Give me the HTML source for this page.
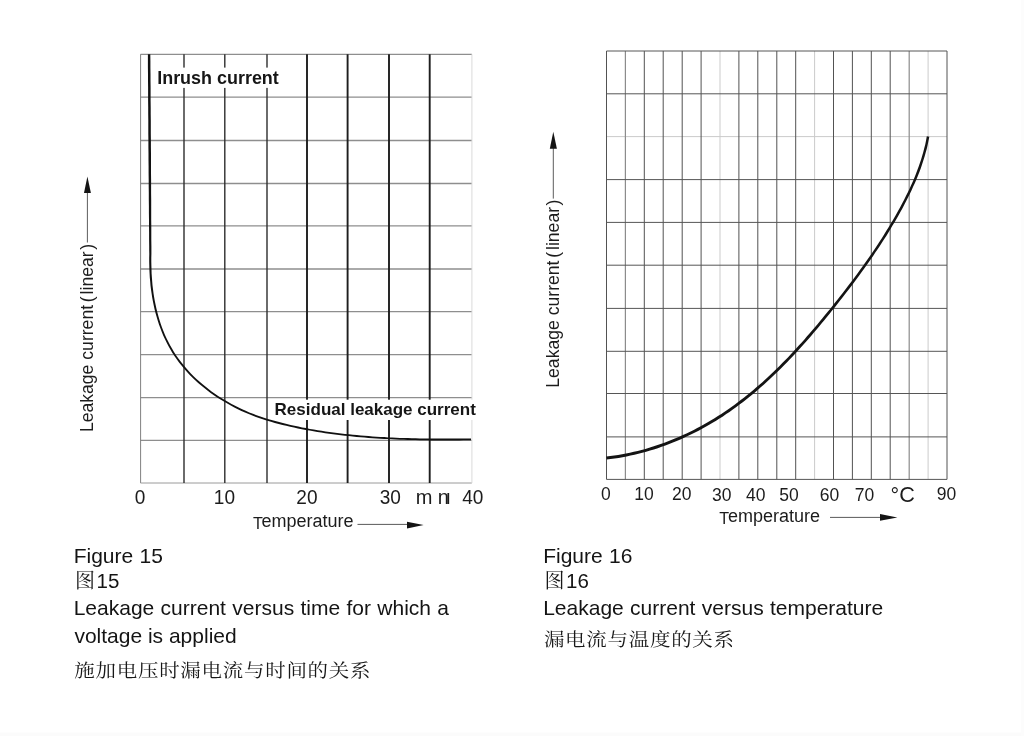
<!DOCTYPE html>
<html lang="en">
<head>
<meta charset="utf-8">
<title>Figure 15 / Figure 16 – Leakage current</title>
<style>
html,body{margin:0;padding:0;background:#fff;}
body{width:1024px;height:736px;overflow:hidden;position:relative;}
svg{position:absolute;left:0;top:0;display:block;filter:grayscale(1);}
text{font-family:"Liberation Sans","Noto Sans CJK SC",sans-serif;fill:#1c1c1c;}
.cjk{font-family:"Liberation Serif","Noto Serif CJK SC",serif;fill:#181818;}
.b{font-weight:bold;fill:#161616;}
.ax{font-size:17.5px;}
.ax1{font-size:21px;}
.cap{font-size:21px;word-spacing:0.5px;fill:#141414;}
.mid{text-anchor:middle;}
</style>
</head>
<body>
<svg width="1024" height="736" viewBox="0 0 1024 736">
<rect x="0" y="0" width="1024" height="736" fill="#ffffff"/>
<rect x="0" y="732.5" width="1024" height="3.5" fill="#fbfbfb"/>
<rect x="1021" y="0" width="3" height="736" fill="#fcfcfc"/>

<!-- ============ FIGURE 15 (left chart) ============ -->
<g id="fig15">
  <path d="M140.5 54.4H471.8M140.5 97.2H471.8M140.5 140.5H471.8M140.5 183.5H471.8M140.5 225.8H471.8M140.5 269H471.8M140.5 311.7H471.8M140.5 354.6H471.8M140.5 397.6H471.8M140.5 440.4H471.8" stroke="#8e8e8e" stroke-width="1.3" fill="none"/>
  <path d="M140.6 54.3V483" stroke="#808080" stroke-width="1" fill="none"/>
  <path d="M140.5 483H471.8" stroke="#9a9a9a" stroke-width="1" fill="none"/>
  <path d="M471.9 54.3V483" stroke="#d2d2d2" stroke-width="0.8" fill="none"/>
  <path d="M184 54.3V483M224.8 54.3V483M267 54.3V483" stroke="#2e2e2e" stroke-width="1.4" fill="none"/>
  <path d="M307 54.3V483M347.6 54.3V483M389 54.3V483M429.7 54.3V483" stroke="#1e1e1e" stroke-width="1.9" fill="none"/>
  <rect x="152" y="67.6" width="130" height="20.3" fill="#fff"/>
  <rect x="272" y="399.7" width="206" height="20.3" fill="#fff"/>
  <path d="M147.9 54.3L147.9 60.9L147.9 67.5L148.0 74.1L148.0 80.7L148.1 87.4L148.1 94.0L148.1 100.6L148.2 107.2L148.2 113.8L148.3 120.4L148.3 127.0L148.3 133.6L148.4 140.2L148.4 146.9L148.5 153.5L148.5 160.1L148.6 166.7L148.6 173.3L148.7 179.9L148.7 186.5L148.8 193.1L148.8 199.7L148.9 206.3L148.9 213.0L149.0 219.6L149.0 226.2L149.1 232.8L149.1 239.4L149.2 246.0L149.2 250.0L149.3 254.0L149.2 257.9L149.2 261.8L149.3 265.7L149.4 269.7L149.6 273.7L149.8 277.6L150.2 281.6L150.5 285.5L151.0 289.5L151.6 293.4L152.2 297.4L152.9 301.3L153.7 305.2L154.5 309.1L155.5 312.9L156.6 316.8L157.7 320.6L158.9 324.3L160.3 328.1L161.7 331.7L163.2 335.4L164.9 339.0L166.6 342.6L168.4 346.1L170.4 349.5L172.4 352.9L174.6 356.2L176.9 359.5L179.2 362.7L181.7 365.8L184.2 368.8L186.8 371.8L189.5 374.7L192.3 377.5L195.2 380.3L198.1 382.9L201.2 385.5L204.3 388.0L207.4 390.5L210.6 392.9L213.8 395.2L217.1 397.4L220.5 399.5L223.9 401.6L227.3 403.6L230.8 405.6L234.3 407.4L237.8 409.2L241.4 410.9L245.0 412.5L248.7 414.0L252.3 415.5L256.0 416.9L259.7 418.2L263.5 419.5L267.3 420.7L271.0 421.8L274.8 422.9L278.7 423.9L282.5 424.9L286.3 425.8L290.2 426.7L294.0 427.6L297.9 428.4L301.8 429.2L305.7 429.9L309.6 430.6L313.5 431.3L317.4 432.0L321.3 432.6L325.2 433.2L329.1 433.7L333.0 434.3L337.0 434.8L340.9 435.2L344.8 435.7L348.8 436.1L352.7 436.5L356.6 436.9L360.6 437.3L364.5 437.6L368.4 437.9L372.4 438.2L376.3 438.5L380.2 438.7L384.2 438.9L388.1 439.1L392.1 439.3L396.0 439.5L400.0 439.7L403.9 439.8L407.8 439.9L411.8 440.0L415.7 440.1L419.7 440.2L423.6 440.3L427.6 440.3L431.5 440.4L435.5 440.4L439.4 440.4L443.4 440.4L447.3 440.4L451.3 440.4L455.2 440.4L459.2 440.4L463.1 440.3L467.1 440.3L471.0 440.2L471.0 438.4L467.0 438.5L463.1 438.5L459.2 438.6L455.2 438.6L451.3 438.6L447.3 438.6L443.4 438.6L439.4 438.6L435.5 438.6L431.5 438.6L427.6 438.5L423.7 438.5L419.7 438.4L415.8 438.3L411.8 438.2L407.9 438.1L404.0 438.0L400.0 437.9L396.1 437.7L392.2 437.5L388.2 437.4L384.3 437.1L380.4 436.9L376.4 436.7L372.5 436.4L368.6 436.1L364.6 435.8L360.7 435.5L356.8 435.1L352.9 434.7L348.9 434.3L345.0 433.9L341.1 433.5L337.2 433.0L333.3 432.5L329.4 432.0L325.5 431.4L321.6 430.8L317.7 430.2L313.8 429.5L309.9 428.9L306.0 428.1L302.1 427.4L298.3 426.6L294.4 425.8L290.6 424.9L286.8 424.1L282.9 423.1L279.1 422.1L275.3 421.1L271.5 420.1L267.8 418.9L264.0 417.8L260.3 416.5L256.6 415.2L253.0 413.8L249.3 412.4L245.7 410.8L242.2 409.2L238.6 407.6L235.1 405.8L231.6 404.0L228.2 402.1L224.8 400.1L221.4 398.0L218.1 395.9L214.9 393.7L211.6 391.4L208.5 389.1L205.4 386.6L202.3 384.1L199.4 381.5L196.5 378.9L193.6 376.2L190.9 373.4L188.2 370.5L185.6 367.6L183.1 364.6L180.7 361.5L178.4 358.4L176.1 355.2L174.0 351.9L172.0 348.6L170.1 345.2L168.3 341.7L166.5 338.2L164.9 334.7L163.4 331.1L162.0 327.4L160.7 323.7L159.5 320.0L158.4 316.2L157.4 312.5L156.4 308.6L155.6 304.8L154.8 300.9L154.1 297.1L153.5 293.2L153.0 289.3L152.5 285.3L152.2 281.4L151.9 277.5L151.6 273.5L151.5 269.6L151.4 265.7L151.3 261.8L151.3 257.9L151.4 254.0L151.4 250.0L151.4 246.0L151.3 239.4L151.3 232.8L151.3 226.2L151.2 219.6L151.2 212.9L151.2 206.3L151.2 199.7L151.1 193.1L151.1 186.5L151.1 179.9L151.0 173.3L151.0 166.7L151.0 160.1L151.0 153.4L150.9 146.8L150.9 140.2L150.8 133.6L150.8 127.0L150.8 120.4L150.7 113.8L150.7 107.2L150.6 100.6L150.6 94.0L150.6 87.3L150.5 80.7L150.5 74.1L150.4 67.5L150.4 60.9L150.3 54.3Z" fill="#111" stroke="none"/>
  <text class="b" x="157.2" y="83.8" font-size="17.95">Inrush current</text>
  <text class="b" x="274.6" y="415.1" font-size="17">Residual leakage current</text>
  <!-- x axis numbers -->
  <g class="ax1">
    <text class="mid" x="140" y="504.3" textLength="10.6" lengthAdjust="spacingAndGlyphs">0</text>
    <text class="mid" x="224.4" y="504.3" textLength="21.2" lengthAdjust="spacingAndGlyphs">10</text>
    <text class="mid" x="306.9" y="504.3" textLength="21.2" lengthAdjust="spacingAndGlyphs">20</text>
    <text class="mid" x="390.3" y="504.3" textLength="21.2" lengthAdjust="spacingAndGlyphs">30</text>
    <text x="415.8" y="504.3" font-size="20">m<tspan dx="5.2">n</tspan><tspan dx="-3.4">ı</tspan></text>
    <text class="mid" x="472.8" y="504.3" textLength="21.2" lengthAdjust="spacingAndGlyphs">40</text>
  </g>
  <text x="252.9" y="526.8" font-size="18"><tspan font-size="16.2" dy="1.7">T</tspan><tspan dy="-1.7" dx="-1.2">emperature</tspan></text>
  <path d="M357.5 524.4H408" stroke="#5a5a5a" stroke-width="1" fill="none"/>
  <path d="M423.6 524.9L407 521.8L407 528.5Z" fill="#141414"/>
  <!-- y axis label -->
  <text style="font-size:17.6px" transform="translate(92.8 432.1) rotate(-90)">Leakage current <tspan dx="-2.1">(</tspan><tspan dx="1.9">linear</tspan><tspan dx="1.5">)</tspan></text>
  <path d="M87.4 242.5V192" stroke="#4a4a4a" stroke-width="0.9" fill="none"/>
  <path d="M87.4 176.4L84 192.9L90.9 192.9Z" fill="#141414"/>
</g>

<!-- ============ FIGURE 16 (right chart) ============ -->
<g id="fig16">
  <path d="M720.0 51V479.4M814.6 51V479.4M928.1 51V479.4M606.5 136.6H947" stroke="#cbcbc7" stroke-width="1" fill="none"/>
  <path d="M625.4 51V479.4M909.2 51V479.4" stroke="#8c8c8c" stroke-width="1.2" fill="none"/>
  <path d="M606.5 51V479.4M644.3 51V479.4M663.2 51V479.4M682.2 51V479.4M701.1 51V479.4M738.9 51V479.4M757.8 51V479.4M776.8 51V479.4M795.7 51V479.4M833.5 51V479.4M852.4 51V479.4M871.3 51V479.4M890.2 51V479.4M947.0 51V479.4" stroke="#525252" stroke-width="1" fill="none"/>
  <path d="M606.5 51H947M606.5 93.8H947M606.5 179.6H947M606.5 222.4H947M606.5 265.2H947M606.5 308.4H947M606.5 351.3H947M606.5 393.5H947M606.5 436.9H947M606.5 479.4H947" stroke="#565656" stroke-width="1" fill="none"/>
  <path d="M606.6 459.5L610.6 459.0L614.6 458.5L618.6 457.9L622.6 457.2L626.6 456.4L630.5 455.6L634.5 454.8L638.4 453.8L642.3 452.8L646.2 451.7L650.1 450.6L653.9 449.4L657.8 448.2L661.6 446.8L665.4 445.5L669.2 444.0L672.9 442.6L676.7 441.0L680.4 439.4L684.1 437.8L687.7 436.1L691.4 434.3L695.0 432.5L698.6 430.7L702.1 428.8L705.7 426.8L709.2 424.8L712.6 422.8L716.1 420.7L719.5 418.5L722.9 416.4L726.2 414.1L729.5 411.9L732.8 409.6L736.0 407.2L739.2 404.8L742.4 402.4L745.6 399.9L748.7 397.5L751.8 394.9L754.9 392.4L758.0 389.8L761.0 387.1L764.0 384.5L766.9 381.8L769.9 379.1L772.8 376.3L775.7 373.5L778.6 370.7L781.4 367.9L784.3 365.1L787.1 362.2L789.9 359.3L792.6 356.4L795.4 353.4L798.1 350.5L800.8 347.5L803.5 344.5L806.2 341.5L808.9 338.4L811.5 335.4L814.1 332.3L816.8 329.2L819.3 326.2L821.9 323.1L824.5 320.0L827.1 316.8L829.6 313.7L832.1 310.6L834.7 307.4L837.2 304.3L839.7 301.1L842.1 298.0L844.6 294.8L847.1 291.6L849.5 288.4L852.0 285.2L854.4 282.0L856.8 278.8L859.2 275.6L861.5 272.3L863.9 269.1L866.2 265.8L868.5 262.5L870.8 259.3L873.1 256.0L875.3 252.6L877.6 249.3L879.8 246.0L882.0 242.6L884.1 239.3L886.3 235.9L888.4 232.5L890.5 229.0L892.5 225.6L894.6 222.2L896.6 218.7L898.6 215.2L900.5 211.7L902.5 208.2L904.4 204.6L906.2 201.0L908.0 197.5L909.8 193.9L911.6 190.2L913.2 186.6L914.9 182.9L916.5 179.2L918.0 175.5L919.5 171.7L920.9 167.9L922.2 164.1L923.4 160.3L924.6 156.5L925.7 152.6L926.8 148.7L927.7 144.7L928.5 140.8L929.3 136.8L926.8 136.3L926.1 140.3L925.3 144.2L924.3 148.1L923.3 151.9L922.2 155.7L921.1 159.6L919.8 163.3L918.5 167.1L917.1 170.8L915.7 174.5L914.2 178.2L912.6 181.9L911.0 185.5L909.3 189.2L907.6 192.8L905.8 196.3L904.0 199.9L902.1 203.4L900.3 207.0L898.3 210.5L896.4 214.0L894.4 217.4L892.4 220.9L890.4 224.3L888.3 227.7L886.2 231.1L884.1 234.5L882.0 237.9L879.8 241.2L877.7 244.6L875.4 247.9L873.2 251.2L871.0 254.5L868.7 257.8L866.4 261.1L864.1 264.3L861.8 267.6L859.4 270.8L857.1 274.0L854.7 277.2L852.3 280.4L849.9 283.6L847.4 286.8L845.0 290.0L842.5 293.2L840.1 296.3L837.6 299.5L835.1 302.6L832.6 305.8L830.1 308.9L827.5 312.0L825.0 315.1L822.4 318.2L819.9 321.3L817.3 324.4L814.7 327.5L812.1 330.6L809.5 333.6L806.8 336.6L804.2 339.7L801.5 342.7L798.8 345.6L796.1 348.6L793.4 351.5L790.6 354.5L787.9 357.4L785.1 360.2L782.3 363.1L779.5 365.9L776.6 368.7L773.8 371.5L770.9 374.3L768.0 377.0L765.0 379.7L762.1 382.4L759.1 385.0L756.1 387.6L753.1 390.2L750.0 392.7L746.9 395.2L743.8 397.7L740.7 400.1L737.5 402.5L734.3 404.9L731.1 407.2L727.9 409.5L724.6 411.7L721.3 413.9L717.9 416.1L714.5 418.2L711.1 420.3L707.7 422.3L704.2 424.2L700.7 426.2L697.2 428.1L693.7 429.9L690.1 431.7L686.5 433.4L682.9 435.1L679.2 436.7L675.5 438.3L671.8 439.8L668.1 441.3L664.4 442.7L660.6 444.0L656.8 445.3L653.0 446.6L649.2 447.7L645.4 448.9L641.5 449.9L637.7 450.9L633.8 451.8L629.9 452.7L626.0 453.5L622.1 454.2L618.1 454.9L614.2 455.5L610.2 456.1L606.3 456.5Z" fill="#141414" stroke="none"/>
  <g class="ax">
    <text class="mid" x="605.8" y="499.8">0</text>
    <text class="mid" x="644" y="499.8">10</text>
    <text class="mid" x="681.7" y="499.8">20</text>
    <text class="mid" x="721.7" y="501.3">30</text>
    <text class="mid" x="755.8" y="500.8">40</text>
    <text class="mid" x="789.1" y="500.8">50</text>
    <text class="mid" x="829.4" y="500.8">60</text>
    <text class="mid" x="864.4" y="500.8">70</text>
    <text x="890.6" y="502" font-size="21.6"><tspan dy="1">°</tspan><tspan dy="-1">C</tspan></text>
    <text class="mid" x="946.6" y="500.2">90</text>
  </g>
  <text x="719.2" y="522.3" font-size="18"><tspan font-size="16.2" dy="1.4">T</tspan><tspan dy="-1.4" dx="-1.2">emperature</tspan></text>
  <path d="M830 517.4H881" stroke="#5a5a5a" stroke-width="1" fill="none"/>
  <path d="M897.4 517.4L880 513.9L880 520.7Z" fill="#141414"/>
  <text style="font-size:17.6px" transform="translate(559.4 387.7) rotate(-90)">Leakage current <tspan dx="-2.1">(</tspan><tspan dx="1.9">linear</tspan><tspan dx="1.5">)</tspan></text>
  <path d="M553.3 198.6V148" stroke="#4a4a4a" stroke-width="0.9" fill="none"/>
  <path d="M553.3 131.8L549.8 148.7L556.9 148.7Z" fill="#141414"/>
</g>

<!-- ============ captions ============ -->
<g id="captions">
  <text class="cap" x="73.7" y="563.4">Figure 15</text>
  <text class="cap" x="75" y="588.1"><tspan class="cjk" font-size="20">图</tspan><tspan dx="1.5" font-size="20.5">15</tspan></text>
  <text class="cap" x="73.7" y="615.3">Leakage current versus time for which a</text>
  <text class="cap" x="74.4" y="643.4" style="word-spacing:0">voltage is applied</text>
  <text class="cjk" transform="translate(74.3 677.1) scale(1 0.912)" font-size="20.5" style="letter-spacing:0.72px">施加电压时漏电流与时间的关系</text>

  <text class="cap" x="543.2" y="563.4">Figure 16</text>
  <text class="cap" x="544.5" y="588.1"><tspan class="cjk" font-size="20">图</tspan><tspan dx="1.5" font-size="20.5">16</tspan></text>
  <text class="cap" x="543.2" y="615.3">Leakage current versus temperature</text>
  <text class="cjk" transform="translate(543.9 645.7) scale(1 0.912)" font-size="20.5" style="letter-spacing:0.72px">漏电流与温度的关系</text>
</g>
</svg>
</body>
</html>
